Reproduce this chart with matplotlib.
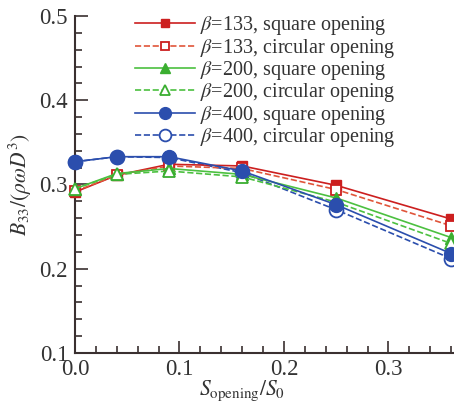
import matplotlib
matplotlib.use("Agg")
import matplotlib.pyplot as plt
from matplotlib.ticker import MultipleLocator

plt.rcParams['font.family'] = ['Liberation Serif', 'DejaVu Serif']
plt.rcParams['mathtext.fontset'] = 'stix'

x = [0.0, 0.04, 0.09, 0.16, 0.25, 0.36]
b133_square = [0.291, 0.311, 0.324, 0.322, 0.299, 0.259]
b133_circular = [0.292, 0.311, 0.322, 0.319, 0.294, 0.251]
b200_square = [0.295, 0.313, 0.319, 0.312, 0.284, 0.237]
b200_circular = [0.295, 0.312, 0.316, 0.309, 0.279, 0.230]
b400_square = [0.327, 0.333, 0.333, 0.316, 0.276, 0.218]
b400_circular = [0.327, 0.333, 0.332, 0.314, 0.270, 0.212]
labels = [r"$\beta$=133, square opening", r"$\beta$=133, circular opening",
          r"$\beta$=200, square opening", r"$\beta$=200, circular opening",
          r"$\beta$=400, square opening", r"$\beta$=400, circular opening"]

red, red2 = '#cc1f1f', '#e0553a'
green = '#4cc040'
blue = '#2b4ead'

fig = plt.figure(figsize=(4.54, 4.08), dpi=100)
ax = fig.add_axes([0.1652, 0.1348, 0.8348, 0.826])

ax.plot(x, b133_square, '-', color=red, marker='s', ms=7, mfc=red, mec=red, lw=1.2, label=labels[0], clip_on=False, zorder=3)
ax.plot(x, b133_circular, '--', color=red2, marker='s', ms=7.5, mfc='white', mec=red, mew=1.3, lw=1.2, label=labels[1], clip_on=False, zorder=3)
ax.plot(x, b200_square, '-', color=green, marker='^', ms=8, mfc='#3aae30', mec='#3aae30', lw=1.2, label=labels[2], clip_on=False, zorder=3)
ax.plot(x, b200_circular, '--', color=green, marker='^', ms=8, mfc='white', mec='#3aae30', mew=1.3, lw=1.2, label=labels[3], clip_on=False, zorder=3)
ax.plot(x, b400_square, '-', color=blue, marker='o', ms=10, mfc=blue, mec=blue, lw=1.2, label=labels[4], clip_on=False, zorder=4)
ax.plot(x, b400_circular, '--', color=blue, marker='o', ms=10, mfc='white', mec=blue, mew=1.3, lw=1.2, label=labels[5], clip_on=False, zorder=2)

ax.set_xlim(0, 0.3627)
ax.set_ylim(0.1, 0.5)
ax.xaxis.set_major_locator(MultipleLocator(0.1))
ax.xaxis.set_minor_locator(MultipleLocator(0.02))
ax.yaxis.set_major_locator(MultipleLocator(0.1))
ax.yaxis.set_minor_locator(MultipleLocator(0.02))
ax.xaxis.set_major_formatter(plt.FuncFormatter(lambda v, p: f"{v:.1f}"))
ax.yaxis.set_major_formatter(plt.FuncFormatter(lambda v, p: f"{v:.1f}"))
for s in ['top', 'right']:
    ax.spines[s].set_visible(False)
for s in ['left', 'bottom']:
    ax.spines[s].set_color('#3a3030')
    ax.spines[s].set_linewidth(1.5)
ax.tick_params(which='both', direction='in', color='#3a3030', width=1.2, labelsize=16.5, labelcolor='#333333')
ax.tick_params(which='major', length=9)
ax.tick_params(axis='x', which='major', pad=4)
ax.tick_params(axis='y', which='major', pad=5)
ax.tick_params(which='minor', length=5)

ax.set_xlabel(r"$S_{\mathrm{opening}}/S_0$", fontsize=15.5, color='#333333')
ax.xaxis.set_label_coords(0.44, -0.075)
ax.set_ylabel(r"$B_{33}/(\rho\omega D^3)$", fontsize=15.5, color='#333333', labelpad=4)

leg = ax.legend(loc='upper left', bbox_to_anchor=(60 / 379, 1.005), frameon=False, fontsize=14.5,
                handlelength=3.0, handletextpad=0.25, labelspacing=-0.03, borderaxespad=0.0,
                borderpad=0.0, markerscale=0.85)
for t in leg.get_texts():
    t.set_color('#333333')

fig.savefig('out.png', dpi=100)
